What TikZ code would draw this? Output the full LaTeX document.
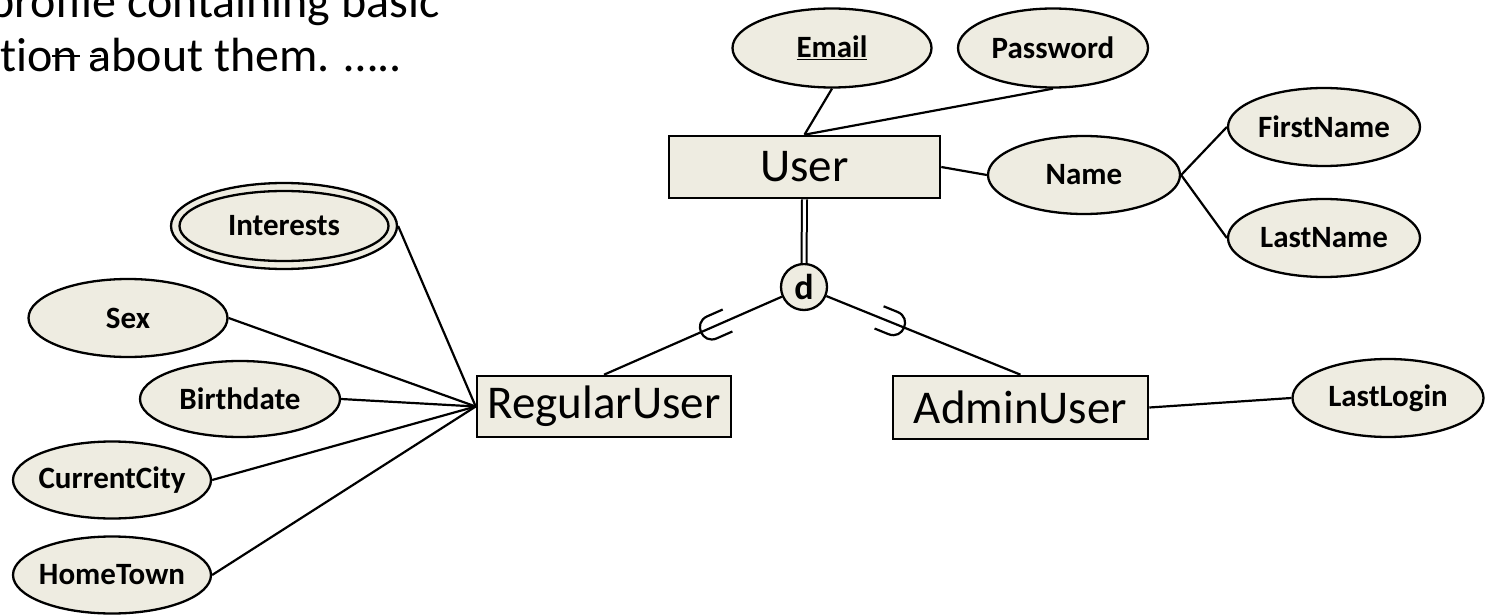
\documentclass[tikz,border=0pt]{standalone}
\usepackage{fontspec}
\setmainfont{Carlito}
\usetikzlibrary{shapes.geometric,calc}
\definecolor{tanfill}{HTML}{EEECE1}
\newcommand{\zb}[1]{\makebox[0pt]{#1}}
\begin{document}
\begin{tikzpicture}[x=1pt,y=-1pt,
  ent/.style={draw, line width=2.6pt, fill=tanfill, rectangle, inner sep=0pt, font=\fontsize{47}{56}\selectfont},
  attr/.style={draw, line width=2.3pt, fill=tanfill, ellipse, inner sep=0pt, font=\fontsize{31}{37}\selectfont\bfseries},
  conn/.style={line width=2.2pt},
  topt/.style={inner sep=0pt, font=\fontsize{48}{58}\selectfont}
]
\useasboundingbox (0,0) rectangle (1489,615);

% top-left text (cut off by the picture's edges, as in the reference)
\node[topt, anchor=base east] (t1) at (440,18) {profile containing basic};
\node[topt, anchor=base west] (t2) at (0,72) {t\kern0pt ion about them. …..};
\draw[line width=1.6pt] (52,56) -- (80,56);
\draw[line width=1.6pt] (90,56) -- (101,56);

% entities
\node[ent, minimum width=271pt, minimum height=62pt] (user) at (804.5,167) {User};
\node[ent, minimum width=254pt, minimum height=61pt] (ru) at (604,406.5) {RegularUser};
\node[ent, minimum width=255pt, minimum height=63pt] (au) at (1020.5,407.5) {AdminUser};

% attributes
\node[attr, minimum width=199pt, minimum height=79pt] (email) at (832,48) {\zb{\underline{Email}}};
\node[attr, minimum width=190pt, minimum height=79pt] (password) at (1053,48) {\zb{Password}};
\node[attr, minimum width=192pt, minimum height=78pt] (name) at (1084,175) {\zb{Name}};
\node[attr, minimum width=192pt, minimum height=78pt] (firstname) at (1324,127) {\zb{FirstName}};
\node[attr, minimum width=192pt, minimum height=78pt] (lastname) at (1324,238) {\zb{LastName}};
\node[attr, minimum width=226pt, minimum height=86pt] (interests) at (284,226) {};
\node[attr, minimum width=209pt, minimum height=70pt] (interestsin) at (interests) {\zb{Interests}};
\node[attr, minimum width=199pt, minimum height=78pt] (sex) at (128,318) {\zb{Sex}};
\node[attr, minimum width=200pt, minimum height=76pt] (birthdate) at (240,399) {\zb{Birthdate}};
\node[attr, minimum width=198pt, minimum height=77pt] (currentcity) at (112,480) {\zb{CurrentCity}};
\node[attr, minimum width=198pt, minimum height=77pt] (hometown) at (112,575) {\zb{HomeTown}};
\node[attr, minimum width=191pt, minimum height=78pt] (lastlogin) at (1388,398) {\zb{LastLogin}};

% specialization circle
\node[draw, circle, fill=tanfill, line width=2.3pt, minimum size=46pt, inner sep=0pt,
      font=\fontsize{36}{40}\selectfont\bfseries] (d) at (804,287) {d};

% connectors
\draw[conn] (email.south) -- (user.north);
\draw[conn] (password.south) -- (user.north);
\draw[conn] (user.east) -- (name.west);
\draw[conn] (name.east) -- (firstname.west);
\draw[conn] (name.east) -- (lastname.west);
\draw[line width=2pt, double=white, double distance=3pt] (user.south) -- (d.north);
\draw[conn] (d) -- (ru.north);
\draw[conn] (d) -- (au.north);
\draw[conn] (au.east) -- (lastlogin.west);
\draw[conn] (interests.east) -- (ru.west);
\draw[conn] (sex.east) -- (ru.west);
\draw[conn] (birthdate.east) -- (ru.west);
\draw[conn] (currentcity.east) -- (ru.west);
\draw[conn] (hometown.east) -- (ru.west);

% subset symbols
\coordinate (s1) at ($(ru.north)!0.54!(d.center)$);
\coordinate (s2) at ($(au.north)!0.589!(d.center)$);
\begin{scope}[shift={(s1)}, rotate=23.75]
  \draw[conn] (17,-12) -- (0,-12) .. controls (-16,-12) and (-16,12) .. (0,12) -- (17,12);
\end{scope}
\begin{scope}[shift={(s2)}, rotate=157.9]
  \draw[conn] (15,-12) -- (0,-12) .. controls (-16,-12) and (-16,12) .. (0,12) -- (15,12);
\end{scope}
\end{tikzpicture}
\end{document}
